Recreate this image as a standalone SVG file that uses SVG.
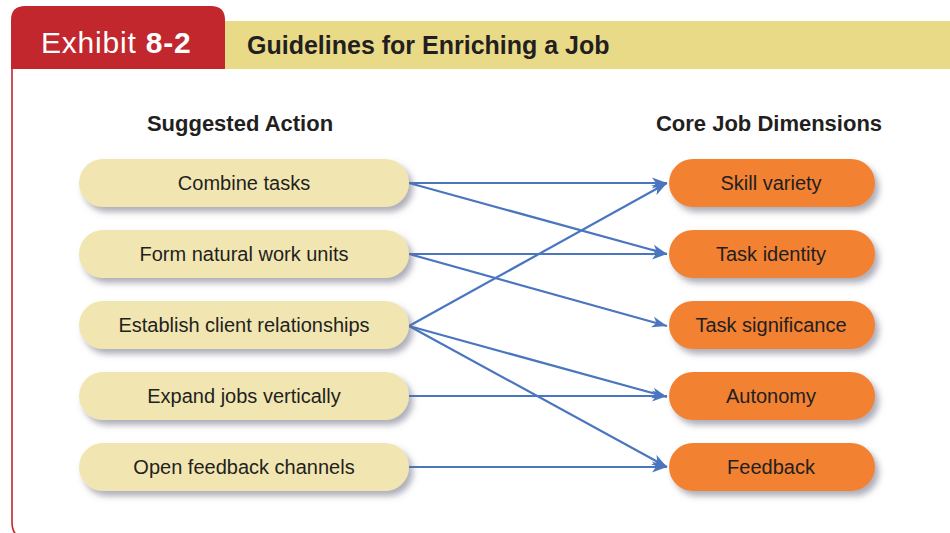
<svg xmlns="http://www.w3.org/2000/svg" width="950" height="533" viewBox="0 0 950 533">
<defs>
<filter id="sh" x="-10%" y="-30%" width="125%" height="180%">
<feGaussianBlur in="SourceAlpha" stdDeviation="3"/>
<feOffset dx="4" dy="5" result="b"/>
<feFlood flood-color="#6b6b80" flood-opacity="0.55"/>
<feComposite in2="b" operator="in"/>
<feMerge><feMergeNode/><feMergeNode in="SourceGraphic"/></feMerge>
</filter>
<marker id="ah" markerWidth="16" markerHeight="12" refX="15" refY="6" orient="auto" markerUnits="userSpaceOnUse">
<path d="M0,0.5 L15,6 L0,11.5 L4,6 Z" fill="#4a76bf"/>
</marker>
<style>
.pl{fill:#f1e6b2;filter:url(#sh)}
.pr{fill:#f28131;filter:url(#sh)}
.t{font-family:"Liberation Sans",Arial,sans-serif;font-size:20px;fill:#231f20;text-anchor:middle}
.h{font-family:"Liberation Sans",Arial,sans-serif;font-size:22px;font-weight:bold;fill:#231f20;text-anchor:middle}
.c{stroke:#4a76bf;stroke-width:2.2;fill:none;marker-end:url(#ah)}
</style>
</defs>
<rect width="950" height="533" fill="#fff"/>
<g id="frame">
<path d="M12,69 L12,522 Q12,539 29,539 L938,539 Q955,539 955,522 L955,69" fill="none" stroke="#c1272d" stroke-width="1.6"/>
<rect x="225" y="21" width="725" height="48" fill="#e9da87"/>
<path d="M11,69 L11,20 Q11,6 25,6 L211,6 Q225,6 225,20 L225,69 Z" fill="#c1272d"/>
<text x="41" y="53" font-family="'Liberation Sans',Arial,sans-serif" font-size="30" letter-spacing="0.8" fill="#fff">Exhibit <tspan font-weight="bold">8-2</tspan></text>
<text x="247" y="54" font-family="'Liberation Sans',Arial,sans-serif" font-size="25" font-weight="bold" fill="#231f20">Guidelines for Enriching a Job</text>
</g>
<g id="headers">
<text class="h" x="240" y="131">Suggested Action</text>
<text class="h" x="769" y="131">Core Job Dimensions</text>
</g>
<g id="connectors">
<line class="c" x1="409" y1="183" x2="667" y2="183"/>
<line class="c" x1="409" y1="183" x2="667" y2="254"/>
<line class="c" x1="409" y1="254" x2="667" y2="254"/>
<line class="c" x1="409" y1="254" x2="667" y2="326"/>
<line class="c" x1="409" y1="326" x2="667" y2="183"/>
<line class="c" x1="409" y1="326" x2="667" y2="397"/>
<line class="c" x1="409" y1="326" x2="667" y2="467"/>
<line class="c" x1="409" y1="396" x2="667" y2="396"/>
<line class="c" x1="409" y1="467" x2="667" y2="467"/>
</g>
<g id="a1"><rect class="pl" x="79" y="159" width="330" height="48" rx="24"/><text class="t" x="244" y="190">Combine tasks</text></g>
<g id="a2"><rect class="pl" x="79" y="230" width="330" height="48" rx="24"/><text class="t" x="244" y="261">Form natural work units</text></g>
<g id="a3"><rect class="pl" x="79" y="301" width="330" height="48" rx="24"/><text class="t" x="244" y="332">Establish client relationships</text></g>
<g id="a4"><rect class="pl" x="79" y="372" width="330" height="48" rx="24"/><text class="t" x="244" y="403">Expand jobs vertically</text></g>
<g id="a5"><rect class="pl" x="79" y="443" width="330" height="48" rx="24"/><text class="t" x="244" y="474">Open feedback channels</text></g>
<g id="d1"><rect class="pr" x="669" y="159" width="206" height="48" rx="24"/><text class="t" x="771" y="190">Skill variety</text></g>
<g id="d2"><rect class="pr" x="669" y="230" width="206" height="48" rx="24"/><text class="t" x="771" y="261">Task identity</text></g>
<g id="d3"><rect class="pr" x="669" y="301" width="206" height="48" rx="24"/><text class="t" x="771" y="332">Task significance</text></g>
<g id="d4"><rect class="pr" x="669" y="372" width="206" height="48" rx="24"/><text class="t" x="771" y="403">Autonomy</text></g>
<g id="d5"><rect class="pr" x="669" y="443" width="206" height="48" rx="24"/><text class="t" x="771" y="474">Feedback</text></g>
</svg>
